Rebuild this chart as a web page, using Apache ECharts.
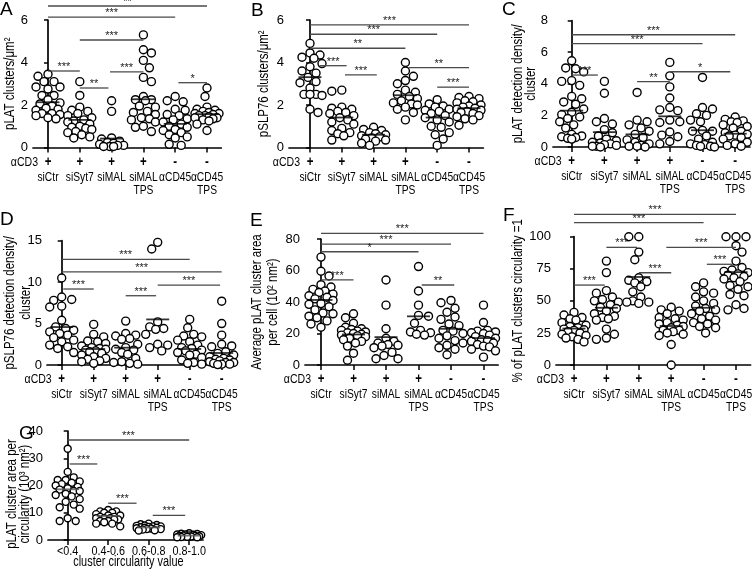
<!DOCTYPE html>
<html><head><meta charset="utf-8">
<script src="https://cdn.jsdelivr.net/npm/echarts@6/dist/echarts.min.js"></script>
<style>html,body{margin:0;padding:0;background:#fff}#c{width:752px;height:571px}</style>
</head><body><div id="c"></div>
<script>
// ---------------- DATA ----------------
const conditions = ['siCtr','siSyt7','siMAL','siMAL\nTPS','αCD45','αCD45\nTPS'];
const cd3Signs = ['+','+','+','+','-','-'];
const circularityBins = ['<0.4','0.4-0.6','0.6-0.8','0.8-1.0'];

const yTicksA = [0,2,4,6];
const pointsA = [
 [3.45,3.35,3.1,3.1,2.85,2.85,2.75,2.45,2.45,2.25,2.1,2.05,1.95,1.85,1.8,1.75,1.6,1.6,1.55,1.5,1.4,1.35],
 [3.1,2.45,1.9,1.75,1.7,1.6,1.5,1.4,1.3,1.25,1.2,1.1,1.0,0.95,0.9,0.85,0.75,0.7,0.6,0.5,0.45],
 [2.2,1.7,0.45,0.4,0.3,0.25,0.2,0.15,0.1,0.1,0.05,0.05,0.05],
 [5.3,4.6,4.45,4.1,3.75,3.3,3.1,2.4,2.25,2.25,2.2,1.95,1.9,1.7,1.65,1.55,1.4,1.35,1.3,1.2,1.0,0.95,0.75],
 [2.4,2.2,2.15,1.8,1.75,1.55,1.5,1.35,1.3,1.2,1.1,1.0,0.95,0.85,0.8,0.7,0.6,0.5,0.45,0.15,0.1],
 [2.8,2.4,1.9,1.8,1.75,1.7,1.65,1.6,1.6,1.55,1.5,1.5,1.45,1.4,1.4,1.35,1.3,1.25,1.1,0.8]
];
const meansA = [2.13,1.3,0.42,2.27,1.11,1.57];
const sigA = [[0,5,6.66,'**'],[0,4,6.14,'***'],[1,3,5.06,'***'],[0,1,3.6,'***'],[1,1.9,2.8,'**'],[1.95,3,3.56,'***'],[4.1,5,3.05,'*']];

const yTicksB = [0,2,4,6];
const pointsB = [
 [4.9,4.45,4.35,4.25,4.2,3.95,3.8,3.6,3.5,3.3,3.1,3.05,2.8,2.5,2.5,2.5,2.45,1.8,1.65],
 [2.7,2.65,1.9,1.85,1.8,1.7,1.65,1.6,1.5,1.4,1.3,1.2,1.1,0.9,0.8,0.7,0.65,0.55,0.35],
 [0.95,0.85,0.8,0.7,0.65,0.6,0.55,0.5,0.45,0.4,0.35,0.3,0.2,0.1],
 [4.0,3.6,3.35,3.15,3.0,2.7,2.6,2.5,2.4,2.3,2.2,2.1,2.05,2.0,1.9,1.8,1.65,1.3],
 [2.25,2.05,1.95,1.9,1.8,1.75,1.7,1.6,1.5,1.4,1.3,1.2,1.0,0.95,0.7,0.6,0.4,0.1],
 [2.4,2.35,2.3,2.2,2.15,2.1,2.0,1.95,1.9,1.85,1.8,1.75,1.7,1.65,1.6,1.5,1.45,1.35,1.3,1.05]
];
const meansB = [3.31,1.41,0.6,2.46,1.41,1.85];
const sigB = [[0,5,5.77,'***'],[0,4,5.33,'***'],[0,3,4.67,'**'],[0.3,1.15,3.85,'***'],[1.1,2.1,3.42,'***'],[3.1,5,3.76,'**'],[4,5,2.84,'***']];

const yTicksC = [0,2,4,6,8];
const pointsC = [
 [5.45,5.0,4.95,4.75,4.2,4.15,3.9,3.2,3.05,2.85,2.7,2.4,2.2,2.05,1.9,1.8,1.6,1.4,1.2,0.8,0.7,0.65,0.6,0.55,0.5],
 [4.15,3.4,1.8,1.6,1.45,1.1,0.9,0.7,0.5,0.4,0.3,0.25,0.2,0.15,0.1,0.05,0.05,0],
 [3.45,1.7,1.6,1.4,1.2,1.0,0.8,0.6,0.45,0.3,0.2,0.1,0.05,0.05,0],
 [5.35,4.5,3.8,3.1,2.5,2.35,2.3,1.7,1.6,1.55,0.95,0.75,0.65,0.35,0.2],
 [4.4,2.5,2.4,2.1,2.0,1.7,1.6,1.05,1.0,1.0,0.7,0.5,0.3,0.2,0.15,0.1,0.05,0.05,0],
 [1.9,1.75,1.65,1.6,1.55,1.4,1.3,1.2,1.0,0.9,0.8,0.75,0.7,0.6,0.5,0.3,0.2,0.1,0.05]
];
const meansC = [2.3,0.94,0.8,1.94,1.06,0.84];
const sigC = [[0,5,7.1,'***'],[0,4,6.54,'***'],[0,0.8,4.55,'***'],[2,3,4.14,'**'],[3,4.85,4.76,'*']];

const yTicksD = [0,5,10,15];
const pointsD = [
 [10.5,8.2,7.9,7.8,7.1,7.0,5.4,4.6,4.4,4.2,4.0,3.8,3.6,3.3,3.0,2.8,2.4,2.2,2.0,1.5],
 [4.9,3.7,3.4,2.9,2.8,2.6,2.3,2.1,2.0,1.9,1.8,1.7,1.6,1.4,1.2,1.0,0.8,0.7,0.5,0.4,0.2],
 [5.3,3.8,3.6,3.5,3.2,3.1,2.5,2.1,1.9,1.8,1.5,1.3,0.8,0.4,0.3,0.2,0.1],
 [14.8,14.0,5.2,4.6,4.4,4.3,3.7,2.5,2.4,2.1,1.7],
 [5.5,4.5,3.7,3.5,3.4,3.0,2.8,2.4,2.1,2.0,1.8,1.7,1.5,1.3,1.2,0.9,0.6,0.3,0.2,0.1],
 [7.7,5.0,3.6,2.5,2.3,2.2,1.6,1.4,1.2,1.0,0.8,0.7,0.6,0.5,0.4,0.3,0.3,0.2,0.1,0.1,0.05]
];
const meansD = [4.58,1.93,2.09,5.5,1.93,1.45];
const sigD = [[0,4,12.75,'***'],[0,5,11.25,'***'],[0.05,1,9.17,'***'],[2,2.95,8.36,'***'],[3,4.95,9.65,'***']];

const yTicksE = [0,20,40,60,80];
const pointsE = [
 [68.5,59.5,56.5,51,49.5,48,47,46,45,44,43,42,41,39,38.5,37,35,33,32.5,31,30,28,26,24],
 [32.5,30,26.5,24,23,22.5,22,21.5,21,20.5,20,19.5,19,18.5,18,17,16,15,14,12,7.5,3],
 [54,38,23,17,15,14,13,12.5,12,11,8,6,4,4],
 [62.5,47,38,31.5,31,26.5,22,21,20.5,19.5,19],
 [41,39.5,36,33.5,30.5,29,26,25,22,21.5,20,18.5,17,15.5,14,12.5,11,10,6.5],
 [38,27,22,21.5,21,20.5,20,19,18,17,16,15.5,15,14,13,12,11.5,10,9,5]
];
const meansE = [41.3,19.4,17.7,30.9,23,17.1];
const sigE = [[0,5,83.6,'***'],[0,4,76.8,'***'],[0,3,71.9,'*'],[0,1,54,'***'],[3.1,4.1,50.8,'**']];

const yTicksF = [0,25,50,75,100];
const pointsF = [
 [41,39,37,36,35,33,31,30,29,28,27.5,27,26,25,24,23,22,21,20,18],
 [81,72,58,56,53,51,50,49,47,45,44,42,40,38,37,36,35,28,24,21,20],
 [100,100,88,82,68,66,65,64,61,57,53,50,49,49,48],
 [45,43,42,40,37,36,35,33,32,31,30,29,27,27,26,25,24,23,16,0],
 [64,61,57,56,53,50,48,46,44,43,42,40,38,36,35,33,32,30,29,25],
 [100,100,100,93,88,81,76,74,73,72,71,70,69,68,67,65,62,61,59,55,54,47,44,43]
];
const meansF = [28.4,44.6,68.6,30.4,44.6,72.4];
const sigF = [[0,5,117.4,'***'],[0,4,110.9,'***'],[1,1.95,91.7,'***'],[0,0.95,62.3,'***'],[2,3,71.9,'***'],[2.85,5,91.7,'***'],[4.1,4.9,78.5,'***']];

const yTicksG = [0,10,20,30,40];
const pointsG = [
 [33.5,25,23,22,22,21.5,21,20.5,20,19.5,19,18.5,18,18,17,16.5,16,15,14,13,12,11.5,8,7,7],
 [11,10.5,10.5,10,10,9.5,9,9,8.5,8.5,8,8,8,7.5,7.5,7,7,6.5,6,6,5],
 [6,5.8,5.5,5.3,5.2,5,5,4.8,4.7,4.5,4.5,4.3,4.2,4,4,3.8,3.6,3.5],
 [2.5,2.3,2.2,2,2,1.9,1.8,1.7,1.6,1.5,1.5,1.4,1.3,1.2,1.1,1,1]
];
const meansG = [18.6,8.8,4.6,1.6];
const sigG = [[0,3,36.7,'***'],[0.05,0.73,27.9,'***'],[1,1.7,13.5,'***'],[2.1,2.9,9.05,'***']];

// ---------------- LAYOUT / STYLE ----------------
const FONT = "'Liberation Sans',Arial,sans-serif";
const panels = [
 {letter:'A', pts:pointsA, means:meansA, sig:sigA, yt:yTicksA, name:'pLAT clusters/μm²', lay:{axisX:33,c0:48,sp:31.8,top:20,bottom:147.5,nx:10,lh:13,lx:0,ly:0}},
 {letter:'B', pts:pointsB, means:meansB, sig:sigB, yt:yTicksB, name:'pSLP76 clusters/μm²', lay:{axisX:289,c0:310,sp:31.8,top:20,bottom:147.5,nx:264,lh:13,lx:251,ly:1}},
 {letter:'C', pts:pointsC, means:meansC, sig:sigC, yt:yTicksC, name:'pLAT detection density/\ncluster', lay:{axisX:553,c0:571.7,sp:32.7,top:20.5,bottom:147,nx:524.5,lh:12.5,lx:502,ly:0}},
 {letter:'D', pts:pointsD, means:meansD, sig:sigD, yt:yTicksD, name:'pSLP76 detection density/\ncluster', lay:{axisX:47,c0:61.7,sp:32,top:240.7,bottom:365,nx:18,lh:16,lx:0,ly:210}},
 {letter:'E', pts:pointsE, means:meansE, sig:sigE, yt:yTicksE, name:'Average pLAT cluster area\nper cell (10² nm²)', lay:{axisX:305,c0:321,sp:32.5,top:239,bottom:365,nx:265,lh:15.5,lx:250,ly:211}},
 {letter:'F', pts:pointsF, means:meansF, sig:sigF, yt:yTicksF, name:'% of pLAT clusters circularity =1', lay:{axisX:556,c0:574,sp:32.4,top:236.7,bottom:365,nx:518,lh:13,lx:503,ly:206}},
 {letter:'G', pts:pointsG, means:meansG, sig:sigG, yt:yTicksG, name:'pLAT cluster area per\ncircularity (10³ nm²)', lay:{axisX:48,c0:67.7,sp:40.5,top:431,bottom:540,nx:18.5,ny:494,lh:13,lx:19,ly:424}, bins:true}
];

function swarmOffsets(values, pxY, pxX, diam, maxOff) {
  const idx = values.map((v,i)=>i).sort((a,b)=>values[b]-values[a]);
  const placed = [], out = new Array(values.length);
  idx.forEach((i,n) => {
    const y = values[i]*pxY;
    const cands = [0];
    for (let k=2;k<=maxOff;k+=2) { if (n%2) cands.push(-k,k); else cands.push(k,-k); }
    let best = 0, bestD = -1;
    for (const c of cands) {
      let d = Infinity;
      for (const p of placed) { const dd = Math.hypot(p[0]-c, p[1]-y); if (dd<d) d=dd; }
      if (d >= diam) { best = c; bestD = d; break; }
      if (d > bestD) { bestD = d; best = c; }
    }
    placed.push([best,y]); out[i] = best/pxX;
  });
  return out;
}

function txt(text, x, y, opts) {
  opts = opts || {};
  return {type:'text', x, y, rotation:opts.rot||0, scaleX:opts.sx||0.82, silent:true,
    style:{text, font:(opts.weight||'normal')+' '+(opts.size||14)+'px '+FONT, fill:'#000',
      align:opts.align||'center', verticalAlign:'middle', lineHeight:opts.lh||14}};
}

const grid=[], xAxis=[], yAxis=[], series=[], graphic=[];
panels.forEach((p, gi) => {
  const L = p.lay;
  const nCat = p.bins ? 4 : 6;
  const xmin = -(L.c0 - L.axisX)/L.sp;
  const xmax = (nCat-1) + (p.bins ? 0.34 : 0.45);
  const ymin = p.yt[0], ymax = p.yt[p.yt.length-1];
  const pxY = (L.bottom - L.top)/(ymax-ymin);
  grid.push({left:L.axisX, top:L.top, width:(xmax-xmin)*L.sp, height:L.bottom-L.top, outerBoundsMode:'none', containLabel:false});
  const cats = [...Array(nCat).keys()];
  xAxis.push({
    type:'value', gridIndex:gi, min:xmin, max:xmax, splitLine:{show:false},
    axisLine:{show:true, lineStyle:{color:'#000', width:1.7}},
    axisTick:{show:true, customValues:cats, length:5, lineStyle:{color:'#000', width:1.5}},
    axisLabel:{show:false}
  });
  yAxis.push({
    type:'value', gridIndex:gi, min:ymin, max:ymax, interval:p.yt[1]-p.yt[0], splitLine:{show:false},
    axisLine:{show:true, lineStyle:{color:'#000', width:1.7}},
    axisTick:{show:true, length:4, lineStyle:{color:'#000', width:1.5}},
    axisLabel:{color:'#000', fontFamily:FONT, fontSize:13, margin:5}
  });
  // category / sign labels drawn at the axis positions
  series.push({type:'custom', xAxisIndex:gi, yAxisIndex:gi, clip:false, silent:true, z:1,
    data: cats.map(i=>[i, ymin]), encode:{x:0, y:1},
    renderItem:(params, api) => {
      const i = params.dataIndex;
      const pt = api.coord([api.value(0), api.value(1)]);
      const ch = [];
      if (p.bins) ch.push(txt(circularityBins[i], pt[0], pt[1]+11, {size:13.5, sx:0.8}));
      else {
        ch.push(txt(cd3Signs[i], pt[0], pt[1]+14.5, {weight:'bold', size:14}));
        conditions[i].split('\n').forEach((t,k)=>ch.push(txt(t, pt[0], pt[1]+29.5+13*k, {size:13.5, sx:0.76})));
      }
      return {type:'group', children:ch};
    }});
  const diam = p.bins ? 7.5 : 8.5;
  const data = [];
  p.pts.forEach((vals, ci) => {
    const offs = swarmOffsets(vals, pxY, L.sp, diam, 12);
    vals.forEach((v,k) => data.push([ci + offs[k], v]));
  });
  series.push({type:'scatter', xAxisIndex:gi, yAxisIndex:gi, data, symbol:'circle', symbolSize: p.bins ? 7 : 8,
    itemStyle:{color:'#fff', borderColor:'#000', borderWidth:1.4, opacity:1}, silent:true, z:2});
  series.push({type:'scatter', xAxisIndex:gi, yAxisIndex:gi, data:p.means.map((m,i)=>[i,m]), symbol:'rect', symbolSize:[23,1.8],
    itemStyle:{color: p.bins ? '#555' : '#000'}, silent:true, z:3});
  const sig = p.sig;
  series.push({type:'custom', xAxisIndex:gi, yAxisIndex:gi, clip:false, silent:true, z:3,
    data: sig.map(s=>[s[0], s[1], s[2]]), encode:{x:[0,1], y:2},
    renderItem:(params, api) => {
      const s = sig[params.dataIndex];
      const a = api.coord([api.value(0), api.value(2)]);
      const b = api.coord([api.value(1), api.value(2)]);
      return {type:'group', children:[
        {type:'line', shape:{x1:a[0], y1:a[1], x2:b[0], y2:b[1]}, style:{stroke:'#4a4a4a', lineWidth:1.3}},
        {type:'text', x:(a[0]+b[0])/2, y:a[1]-4, style:{text:s[3], font:'11px '+FONT, fill:'#222', align:'center', verticalAlign:'middle'}}
      ]};
    }});
  // texts: letter, y name, αCD3 / x name
  graphic.push({type:'text', x:L.lx, y:L.ly, silent:true, style:{text:p.letter, font:'19px '+FONT, fill:'#000', align:'left', verticalAlign:'top'}});
  graphic.push(txt(p.name, L.nx, L.ny || (L.top+L.bottom)/2, {rot:Math.PI/2, lh:L.lh}));
  if (p.bins) graphic.push(txt('cluster circularity value', L.c0 + (nCat-1)/2*L.sp, L.bottom+22, {size:14, sx:0.78}));
  else graphic.push(txt('αCD3', L.c0-10, L.bottom+14.5, {align:'right', size:13.5, sx:0.78}));
});

const chart = echarts.init(document.getElementById('c'), null, {renderer:'canvas'});
chart.setOption({animation:false, backgroundColor:'#fff', textStyle:{fontFamily:FONT, color:'#000'}, grid, xAxis, yAxis, series, graphic, tooltip:{show:false}});
</script></body></html>
